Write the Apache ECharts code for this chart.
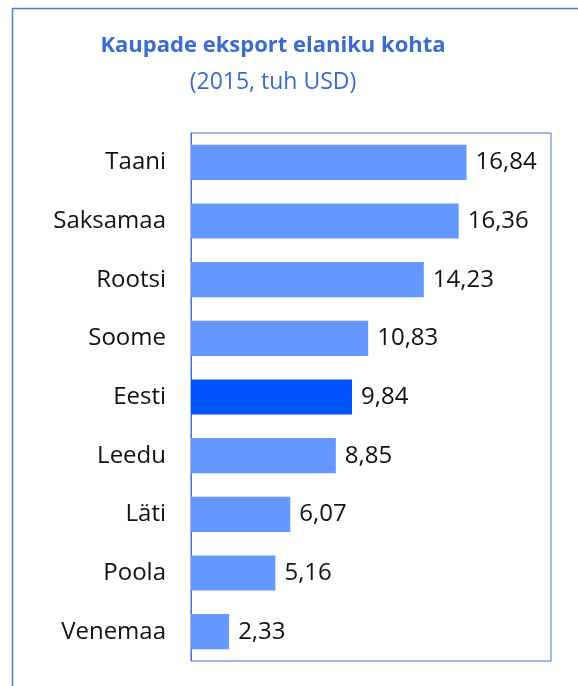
<!DOCTYPE html>
<html>
<head>
<meta charset="utf-8">
<script src="https://cdn.jsdelivr.net/npm/echarts@6/dist/echarts.min.js"></script>
<style>
  html, body { margin: 0; padding: 0; background: #fff; }
  #chart { width: 578px; height: 686px; }
</style>
</head>
<body>
<div id="chart"></div>
<script>
  // andmed
  const countries = ['Taani', 'Saksamaa', 'Rootsi', 'Soome', 'Eesti', 'Leedu', 'Läti', 'Poola', 'Venemaa']
  const exportValues = [16.84, 16.36, 14.23, 10.83, 9.84, 8.85, 6.07, 5.16, 2.33]
  const highlight = 'Eesti'

  const font = '"Open Sans", Lato, sans-serif'
  const chart = echarts.init(document.getElementById('chart'))

  const option = {
    animation: false,
    graphic: [
      {
        type: 'rect',
        shape: { x: 12.5, y: 8.5, width: 620, height: 700 },
        style: { fill: 'none', stroke: '#4a7bd8', lineWidth: 1.5 }
      }
    ],
    title: {
      text: 'Kaupade eksport elaniku kohta',
      subtext: '(2015, tuh USD)',
      left: 268,
      textAlign: 'center',
      top: 30,
      itemGap: 14,
      textStyle: { fontFamily: font, fontSize: 22, fontWeight: 'bold', color: '#3a6bd0' },
      subtextStyle: { fontFamily: font, fontSize: 23, color: '#3a6bd0' }
    },
    grid: {
      left: 191,
      right: 27,
      top: 133,
      bottom: 25,
      show: true,
      borderColor: '#4472c4',
      borderWidth: 1
    },
    xAxis: {
      type: 'value',
      min: 0,
      max: 22,
      show: false
    },
    yAxis: {
      type: 'category',
      inverse: true,
      data: countries,
      axisLine: { show: true, lineStyle: { color: '#4472c4', width: 1 } },
      axisTick: { show: false },
      axisLabel: {
        margin: 25,
        fontFamily: font,
        fontSize: 24,
        color: '#111'
      }
    },
    series: [
      {
        type: 'bar',
        barCategoryGap: '40%',
        data: exportValues.map((v, i) => ({
          value: v,
          itemStyle: { color: countries[i] === highlight ? '#0055ff' : '#6699ff' }
        })),
        label: {
          show: true,
          position: 'right',
          distance: 9,
          fontFamily: font,
          fontSize: 24,
          color: '#111',
          formatter: p => p.value.toFixed(2).replace('.', ',')
        }
      }
    ]
  }
  chart.setOption(option)
</script>
</body>
</html>
